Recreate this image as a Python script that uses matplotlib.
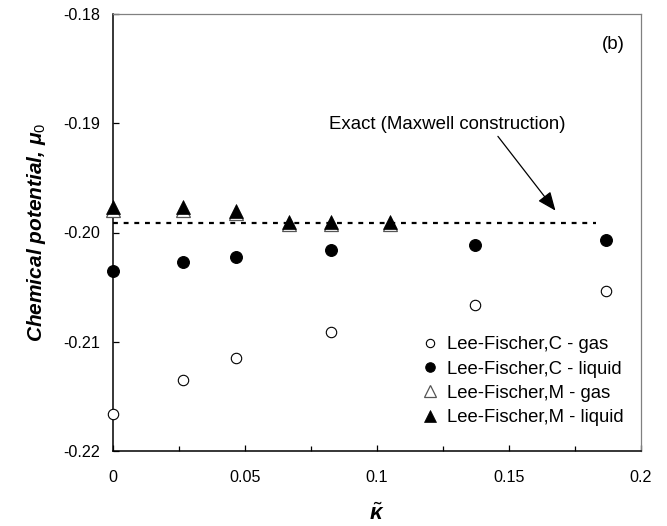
import matplotlib
matplotlib.use('Agg')
import matplotlib.pyplot as plt
from matplotlib.ticker import FixedLocator

plt.rcParams['font.family'] = ['Liberation Sans', 'DejaVu Sans']
plt.rcParams['mathtext.fontset'] = 'custom'
plt.rcParams['mathtext.it'] = 'Liberation Sans:italic:bold'
plt.rcParams['mathtext.rm'] = 'Liberation Sans'
plt.rcParams['mathtext.bf'] = 'Liberation Sans:italic:bold'

# data
kappa_c = [0, 0.0265, 0.0466, 0.0826, 0.137, 0.1867]
mu_c_gas = [-0.2166, -0.2135, -0.2115, -0.2091, -0.2066, -0.2054]
mu_c_liq = [-0.2035, -0.2027, -0.2022, -0.2016, -0.2011, -0.2007]

kappa_m = [0, 0.0265, 0.0466, 0.0667, 0.0826, 0.105]
mu_m_gas = [-0.1979, -0.1979, -0.1982, -0.1992, -0.1992, -0.1992]
mu_m_liq = [-0.1977, -0.1977, -0.1980, -0.1990, -0.1990, -0.1990]

exact_kappa = [0, 0.183]
exact_mu = [-0.1991, -0.1991]

xticks = [0, 0.05, 0.1, 0.15, 0.2]
xtick_labels = ['0', '0.05', '0.1', '0.15', '0.2']
xminor = [0.025, 0.075, 0.125, 0.175]
yticks = [-0.22, -0.21, -0.20, -0.19, -0.18]
ytick_labels = ['-0.22', '-0.21', '-0.20', '-0.19', '-0.18']

fig = plt.figure(figsize=(6.67, 5.26), dpi=100)
ax = fig.add_axes([113 / 667, 1 - 451 / 526, (641 - 113) / 667, (451 - 14) / 526])

# exact line
ax.plot(exact_kappa, exact_mu, color='black', lw=1.6, ls=(0, (2.2, 2.6)), zorder=2)

ax.plot(kappa_c, mu_c_gas, ls='none', marker='o', ms=7.5, mfc='white', mec='black',
        mew=0.8, label='Lee-Fischer,C - gas', zorder=3, clip_on=False)
ax.plot(kappa_c, mu_c_liq, ls='none', marker='o', ms=8.5, mfc='black', mec='black',
        mew=0.8, label='Lee-Fischer,C - liquid', zorder=3, clip_on=False)
ax.plot(kappa_m, mu_m_gas, ls='none', marker='^', ms=10, mfc='white', mec='#555555',
        mew=0.9, label='Lee-Fischer,M - gas', zorder=3, clip_on=False)
ax.plot(kappa_m, mu_m_liq, ls='none', marker='^', ms=10, mfc='black', mec='black',
        mew=0.5, label='Lee-Fischer,M - liquid', zorder=4, clip_on=False)

ax.set_xlim(0, 0.2)
ax.set_ylim(-0.22, -0.18)
ax.xaxis.set_major_locator(FixedLocator(xticks))
ax.set_xticklabels(xtick_labels)
ax.xaxis.set_minor_locator(FixedLocator(xminor))
ax.set_yticks(yticks)
ax.set_yticklabels(ytick_labels)

ax.tick_params(axis='both', which='both', direction='in', labelsize=11.6, colors='black')
ax.tick_params(axis='x', which='major', length=4.5, width=0.9, pad=14)
ax.tick_params(axis='x', which='minor', length=3.5, width=0.9)
ax.tick_params(axis='y', which='major', length=4, width=0.9, pad=9)

for s in ['left', 'bottom']:
    ax.spines[s].set_color('black')
    ax.spines[s].set_linewidth(1.1)
for s in ['top', 'right']:
    ax.spines[s].set_color('#808080')
    ax.spines[s].set_linewidth(0.9)

ax.set_ylabel(r'Chemical potential, $\mu_{0}$', fontsize=15, fontweight='bold',
              fontstyle='italic', labelpad=11)
ax.set_xlabel(r'$\tilde{\kappa}$', fontsize=16, labelpad=13)

ax.text(0.1895, -0.1828, '(b)', fontsize=13.5, ha='center', va='center')
ax.text(0.1265, -0.1901, 'Exact (Maxwell construction)', fontsize=13.4,
        ha='center', va='center')
ax.annotate('', xy=(0.1676, -0.1980), xytext=(0.1458, -0.1912),
            arrowprops=dict(arrowstyle='-|>,head_length=0.6,head_width=0.25',
                            mutation_scale=19, color='black', lw=0.9,
                            shrinkA=0, shrinkB=0))

ax.legend(loc='upper left', bbox_to_anchor=(0.5663, 0.284), frameon=False,
          fontsize=13.3, handlelength=1.0, handletextpad=0.4, borderpad=0,
          labelspacing=0.4, markerscale=0.8)

fig.savefig('out.png', dpi=100)
